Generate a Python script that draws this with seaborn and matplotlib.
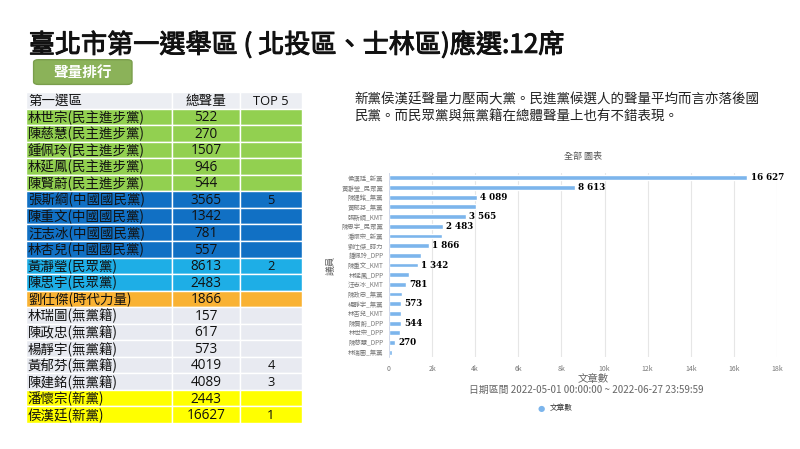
import matplotlib
matplotlib.use("Agg")
import matplotlib.pyplot as plt
import matplotlib.patheffects as pe
import seaborn as sns
import pandas as pd
from matplotlib.patches import Rectangle, FancyBboxPatch

sns.set_theme(style="white")
plt.rcParams['font.family'] = ['Noto Sans CJK TC', 'DejaVu Sans']

# table data (left side)
names = ["林世宗(民主進步黨)", "陳慈慧(民主進步黨)", "鍾佩玲(民主進步黨)", "林延鳳(民主進步黨)",
         "陳賢蔚(民主進步黨)", "張斯綱(中國國民黨)", "陳重文(中國國民黨)", "汪志冰(中國國民黨)",
         "林杏兒(中國國民黨)", "黃瀞瑩(民眾黨)", "陳思宇(民眾黨)", "劉仕傑(時代力量)",
         "林瑞圖(無黨籍)", "陳政忠(無黨籍)", "楊靜宇(無黨籍)", "黃郁芬(無黨籍)",
         "陳建銘(無黨籍)", "潘懷宗(新黨)", "侯漢廷(新黨)"]
volume = [522, 270, 1507, 946, 544, 3565, 1342, 781, 557, 8613, 2483, 1866,
          157, 617, 573, 4019, 4089, 2443, 16627]
top5 = ["", "", "", "", "", "5", "", "", "", "2", "", "", "", "", "", "4", "3", "", "1"]
party = ["DPP"] * 5 + ["KMT"] * 4 + ["TPP"] * 2 + ["NPP"] + ["IND"] * 5 + ["NP"] * 2
headers = ["第一選區", "總聲量", "TOP 5"]

# chart data (right side)
chart_labels = ["侯漢廷_新黨", "黃瀞瑩_民眾黨", "陳建銘_無黨", "黃郁芬_無黨", "張斯綱_KMT",
                "陳思宇_民眾黨", "潘懷宗_新黨", "劉仕傑_時力", "鍾佩玲_DPP", "陳重文_KMT",
                "林延鳳_DPP", "汪志冰_KMT", "陳政忠_無黨", "楊靜宇_無黨", "林杏兒_KMT",
                "陳賢蔚_DPP", "林世宗_DPP", "陳慈慧_DPP", "林瑞圖_無黨"]
chart_counts = [16627, 8613, 4089, 4019, 3565, 2483, 2443, 1866, 1507, 1342,
                946, 781, 617, 573, 557, 544, 522, 270, 157]
shown_labels = [0, 1, 2, 4, 5, 7, 9, 11, 13, 15, 17]

party_colors = {"DPP": "#92D050", "KMT": "#1170C4", "TPP": "#1EAEE6",
                "NPP": "#F9B233", "IND": "#E8EAF1", "NP": "#FFFF00"}

fig = plt.figure(figsize=(8, 4.49), dpi=100)

# title + button
fig.text(0.036, 0.9, "臺北市第一選舉區 ( 北投區、士林區)應選:12席", fontsize=18.8,
         color="#111111", va="center", ha="left",
         path_effects=[pe.withStroke(linewidth=0.7, foreground="#111111")])
btn = FancyBboxPatch((0.042, 0.812), 0.123, 0.055, boxstyle="round,pad=0,rounding_size=0.006",
                     transform=fig.transFigure, facecolor="#8BB259", edgecolor="#7A9E4C", lw=1)
fig.patches.append(btn)
fig.text(0.1035, 0.84, "聲量排行", fontsize=10.5, fontweight="bold", color="white",
         ha="center", va="center")

# table
tab = fig.add_axes([26 / 800, 1 - 423 / 449, 276 / 800, 331 / 449])
col_edges = [0, 146, 214, 276]
nrows = len(names) + 1
tab.set_xlim(0, 276)
tab.set_ylim(nrows, 0)
tab.axis("off")
for r in range(nrows):
    if r == 0:
        fc = "#ECEEF3"
        cells = headers
    else:
        fc = party_colors[party[r - 1]]
        cells = [names[r - 1], str(volume[r - 1]), top5[r - 1]]
    for c in range(3):
        x0, x1 = col_edges[c], col_edges[c + 1]
        tab.add_patch(Rectangle((x0, r), x1 - x0, 1, facecolor=fc, edgecolor="white", lw=1))
        if c == 0:
            tab.text(x0 + 2, r + 0.55, cells[c], fontsize=9.7, ha="left", va="center", color="#111111")
        else:
            tab.text((x0 + x1) / 2, r + 0.55, cells[c], fontsize=9.8 if c == 1 else 9.3,
                     ha="center", va="center", color="#111111",
                     family=["Open Sans", "Noto Sans CJK TC"])

# paragraph
fig.text(0.443, 0.7595, "新黨侯漢廷聲量力壓兩大黨。民進黨候選人的聲量平均而言亦落後國\n民黨。而民眾黨與無黨籍在總體聲量上也有不錯表現。",
         fontsize=9.7, color="#222222", ha="left", va="center", linespacing=1.3)

# bar chart
df = pd.DataFrame({"label": chart_labels, "count": chart_counts})
ax = fig.add_axes([389 / 800, 1 - 357 / 449, 388 / 800, 184 / 449])
sns.barplot(data=df, y="label", x="count", color="#7CB5EC", width=0.5, ax=ax,
            saturation=1, orient="h")
ax.set_xlim(0, 18000)
ax.set_xticks(range(0, 18001, 2000))
ax.set_xticklabels(["0"] + [f"{k}k" for k in range(2, 19, 2)])
ax.tick_params(axis="x", labelsize=5, colors="#777777", length=0, pad=6)
ax.tick_params(axis="y", labelsize=4.6, colors="#777777", length=0, pad=4)
ax.grid(axis="x", color="#E6E6E6", lw=0.8)
ax.set_axisbelow(True)
for s in ["top", "right", "bottom"]:
    ax.spines[s].set_visible(False)
ax.spines["left"].set_color("#CCD6EB")
ax.spines["left"].set_linewidth(0.6)
ax.set_ylabel("議員", fontsize=7, color="#666666", labelpad=4)
ax.set_xlabel("")
for i in shown_labels:
    v = chart_counts[i]
    ax.text(v + 150, i, f"{v:,}".replace(",", " "), fontsize=6.3, fontweight="bold",
            family="DejaVu Serif", color="black", va="center", ha="left")
ax.set_title("全部 圖表", fontsize=6.5, color="#555555", pad=10)

fig.text(0.7415, 1 - 379 / 449, "文章數", fontsize=7.5, color="#666666", ha="center", va="center")
fig.text(0.7325, 1 - 390 / 449, "日期區間 2022-05-01 00:00:00 ~ 2022-06-27 23:59:59",
         fontsize=7.1, color="#666666", ha="center", va="center")
fig.text(0.677, 1 - 408 / 449, "●", fontsize=6, color="#7CB5EC", ha="center", va="center",
         family="DejaVu Sans")
fig.text(0.687, 1 - 408 / 449, "文章數", fontsize=5.5, color="#333333", ha="left", va="center")

fig.savefig("out.png", dpi=100)
